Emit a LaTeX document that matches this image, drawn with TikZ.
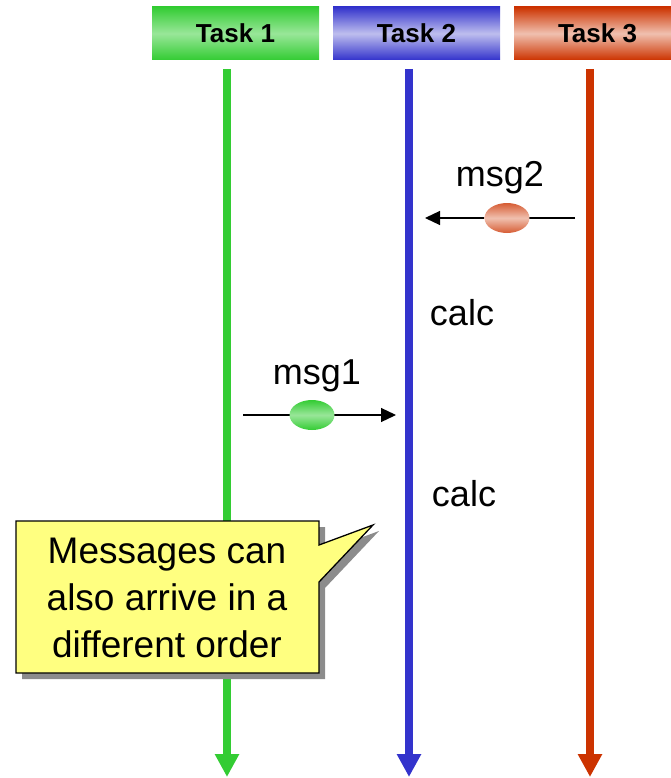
\documentclass[tikz,border=0pt]{standalone}
\usepackage{fontspec}
\setmainfont{Liberation Sans}
\usetikzlibrary{arrows.meta,shapes.geometric,shadows}
\definecolor{tgreen}{RGB}{51,204,51}
\definecolor{lgreen}{RGB}{153,230,153}
\definecolor{tblue}{RGB}{51,51,204}
\definecolor{lblue}{RGB}{190,190,238}
\definecolor{tred}{RGB}{204,51,0}
\definecolor{lred}{RGB}{240,192,175}
\definecolor{notefill}{RGB}{255,255,128}
\begin{document}
\begin{tikzpicture}[x=1pt,y=-1pt,
  task/.style={minimum width=167pt,minimum height=53pt,inner sep=0pt,font=\fontsize{26}{30}\selectfont\bfseries},
  life/.style={line width=8pt,-{Triangle[length=23pt,width=23pt]}},
  msgline/.style={line width=1.2pt,-{Triangle[length=15pt,width=14pt]}},
  blob/.style={ellipse,minimum width=45pt,minimum height=30pt,inner sep=0pt},
  lbl/.style={font=\fontsize{36}{43}\selectfont}]
\clip (0,0) rectangle (671,778);

\node[task,top color=tgreen,bottom color=tgreen,middle color=lgreen] (t1) at (235.5,33.5) {Task 1};
\node[task,top color=tblue,bottom color=tblue,middle color=lblue] (t2) at (416.5,33.5) {Task 2};
\node[task,top color=tred,bottom color=tred,middle color=lred] (t3) at (597.5,33.5) {Task 3};

\coordinate (l1s) at (227,69);
\coordinate (l1e) at (227,777);
\coordinate (l2s) at (409,69);
\coordinate (l2e) at (409,777);
\coordinate (l3s) at (590,69);
\coordinate (l3e) at (590,777);
\path[draw,life,tgreen] (l1s) -- (l1e);
\path[draw,life,tblue] (l2s) -- (l2e);
\path[draw,life,tred] (l3s) -- (l3e);

\coordinate (m2s) at (575,218);
\coordinate (m2e) at (425,218);
\path[draw,msgline] (m2s) -- (m2e);
\node[blob,top color=tred!80,bottom color=tred!80,middle color=lred] (b2) at (507,218) {};
\node[lbl] (msg2) at (500,178) {msg2};

\node[lbl] (c1) at (462,313) {calc};

\coordinate (m1s) at (243,415);
\coordinate (m1e) at (396,415);
\path[draw,msgline] (m1s) -- (m1e);
\node[blob,top color=tgreen,bottom color=tgreen,middle color=lgreen] (b1) at (312,415) {};
\node[lbl] (msg1) at (317,376) {msg1};

\node[lbl] (c2) at (464,494) {calc};

\coordinate (tip) at (373,525);
\filldraw[fill=notefill,draw=black,line width=1.3pt,drop shadow={shadow xshift=6pt,shadow yshift=-6pt,fill=black!45,opacity=1}]
  (16,521) -- (319,521) -- (319,545) -- (tip) -- (319,582) -- (319,673) -- (16,673) -- cycle;
\node[lbl,align=center,font=\fontsize{37}{47}\selectfont] (note) at (167,598) {Messages can\\also arrive in a\\different order};
\end{tikzpicture}
\end{document}
